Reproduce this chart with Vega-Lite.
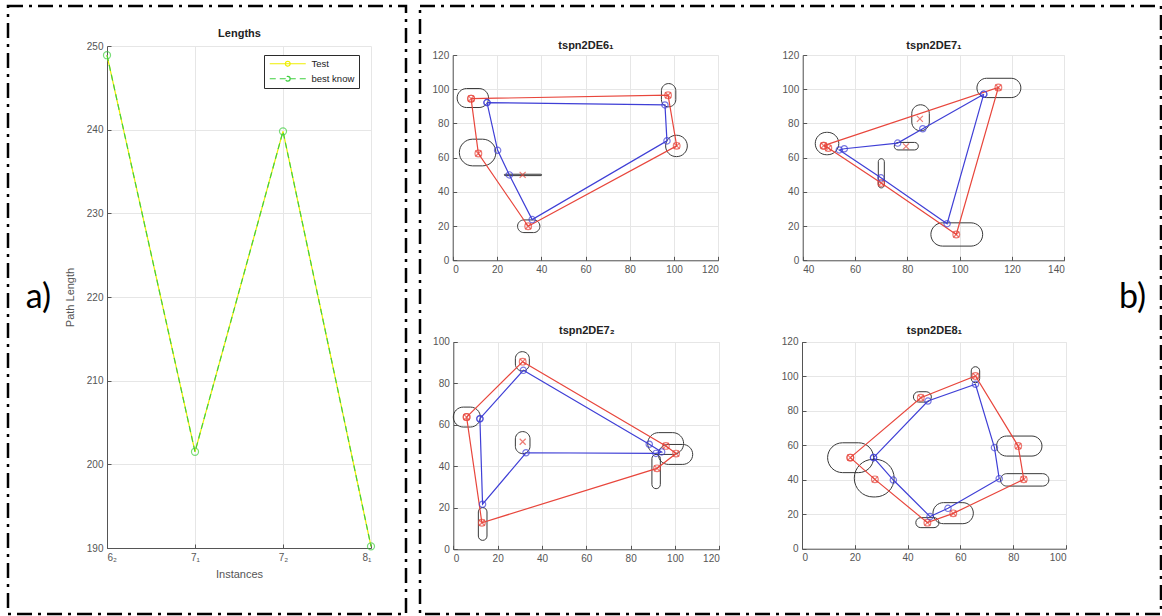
{
  "$schema": "https://vega.github.io/schema/vega-lite/v6.json",
  "padding": {"left": 6, "top": 4, "right": 0, "bottom": 0},
  "autosize": {"type": "pad"},
  "background": "white",
  "bounds": "flush",
  "spacing": 14,
  "config": {
    "font": "Liberation Sans",
    "view": {"stroke": "#000000", "strokeWidth": 2.5, "strokeDash": [15, 6, 3, 6]},
    "axis": {"labelFontSize": 10, "labelColor": "#555555", "labelFont": "Liberation Sans", "domainColor": "#555555", "tickColor": "#555555", "tickSize": -4, "labelPadding": 8, "gridColor": "#e6e6e6", "titleFontWeight": "normal", "titleFontSize": 11, "titleColor": "#555555", "titleFont": "Liberation Sans"}
  },
  "datasets": {
    "lengths": [
      {"series": "Test", "i": 0, "len": 248.9},
      {"series": "Test", "i": 1, "len": 201.5},
      {"series": "Test", "i": 2, "len": 239.8},
      {"series": "Test", "i": 3, "len": 190.2},
      {"series": "best know", "i": 0, "len": 248.9},
      {"series": "best know", "i": 1, "len": 201.5},
      {"series": "best know", "i": 2, "len": 239.8},
      {"series": "best know", "i": 3, "len": 190.2}
    ],
    "ell": [
      {"p": 1, "x": 2.0, "xe": 16.2, "y": 89.3, "ye": 100.4},
      {"p": 1, "x": 94.3, "xe": 100.8, "y": 89.7, "ye": 103.3},
      {"p": 1, "x": 96.2, "xe": 106.0, "y": 60.6, "ye": 73.1},
      {"p": 1, "x": 3.0, "xe": 19.5, "y": 55.2, "ye": 70.8},
      {"p": 1, "x": 29.3, "xe": 39.4, "y": 16.2, "ye": 23.6},
      {"p": 1, "x": 23.3, "xe": 40.2, "y": 49.5, "ye": 50.3},
      {"p": 2, "x": 106.6, "xe": 123.4, "y": 95.1, "ye": 106.4},
      {"p": 2, "x": 81.7, "xe": 88.4, "y": 75.7, "ye": 90.9},
      {"p": 2, "x": 75.0, "xe": 84.2, "y": 64.5, "ye": 68.9},
      {"p": 2, "x": 44.8, "xe": 53.8, "y": 61.7, "ye": 74.8},
      {"p": 2, "x": 68.9, "xe": 71.2, "y": 42.3, "ye": 59.4},
      {"p": 2, "x": 89.0, "xe": 108.8, "y": 8.3, "ye": 21.9},
      {"p": 3, "x": 0.0, "xe": 12.2, "y": 58.9, "ye": 68.5},
      {"p": 3, "x": 28.0, "xe": 34.3, "y": 85.9, "ye": 95.2},
      {"p": 3, "x": 28.0, "xe": 34.6, "y": 46.1, "ye": 56.7},
      {"p": 3, "x": 87.7, "xe": 103.9, "y": 45.7, "ye": 56.2},
      {"p": 3, "x": 92.5, "xe": 108.0, "y": 40.9, "ye": 50.5},
      {"p": 3, "x": 89.6, "xe": 93.4, "y": 29.2, "ye": 45.7},
      {"p": 3, "x": 11.3, "xe": 15.2, "y": 4.3, "ye": 20.1},
      {"p": 4, "x": 9.7, "xe": 27.1, "y": 44.1, "ye": 61.4},
      {"p": 4, "x": 19.8, "xe": 34.9, "y": 30.0, "ye": 51.8},
      {"p": 4, "x": 43.1, "xe": 51.9, "y": 12.2, "ye": 18.0},
      {"p": 4, "x": 49.6, "xe": 64.9, "y": 14.5, "ye": 26.7},
      {"p": 4, "x": 75.2, "xe": 93.5, "y": 36.3, "ye": 43.5},
      {"p": 4, "x": 73.7, "xe": 90.9, "y": 53.7, "ye": 65.3},
      {"p": 4, "x": 64.1, "xe": 67.3, "y": 96.2, "ye": 105.5},
      {"p": 4, "x": 42.2, "xe": 49.0, "y": 85.0, "ye": 91.0}
    ],
    "red": [
      {"p": 1, "o": 0, "x": 8.3, "y": 94.5},
      {"p": 1, "o": 1, "x": 97.3, "y": 96.5},
      {"p": 1, "o": 2, "x": 101.2, "y": 66.9},
      {"p": 1, "o": 3, "x": 34.1, "y": 19.9},
      {"p": 1, "o": 4, "x": 11.6, "y": 62.4},
      {"p": 1, "o": 5, "x": 8.3, "y": 94.5},
      {"p": 2, "o": 0, "x": 48.0, "y": 67.0},
      {"p": 2, "o": 1, "x": 114.8, "y": 101.0},
      {"p": 2, "o": 2, "x": 98.7, "y": 15.1},
      {"p": 2, "o": 3, "x": 70.0, "y": 45.2},
      {"p": 2, "o": 4, "x": 49.8, "y": 65.6},
      {"p": 2, "o": 5, "x": 48.0, "y": 67.0},
      {"p": 3, "o": 0, "x": 6.0, "y": 63.7},
      {"p": 3, "o": 1, "x": 31.3, "y": 90.4},
      {"p": 3, "o": 2, "x": 95.9, "y": 49.8},
      {"p": 3, "o": 3, "x": 100.5, "y": 46.1},
      {"p": 3, "o": 4, "x": 91.9, "y": 39.0},
      {"p": 3, "o": 5, "x": 12.9, "y": 12.8},
      {"p": 3, "o": 6, "x": 6.0, "y": 63.7},
      {"p": 4, "o": 0, "x": 18.3, "y": 52.8},
      {"p": 4, "o": 1, "x": 45.0, "y": 87.5},
      {"p": 4, "o": 2, "x": 65.7, "y": 100.1},
      {"p": 4, "o": 3, "x": 81.9, "y": 59.5},
      {"p": 4, "o": 4, "x": 84.0, "y": 40.2},
      {"p": 4, "o": 5, "x": 57.3, "y": 20.5},
      {"p": 4, "o": 6, "x": 47.5, "y": 15.1},
      {"p": 4, "o": 7, "x": 27.6, "y": 40.2},
      {"p": 4, "o": 8, "x": 18.3, "y": 52.8}
    ],
    "nodes": [
      {"p": 1, "x": 8.3, "y": 94.5}, {"p": 1, "x": 97.3, "y": 96.5}, {"p": 1, "x": 101.2, "y": 66.9},
      {"p": 1, "x": 34.1, "y": 19.9}, {"p": 1, "x": 11.6, "y": 62.4}, {"p": 1, "x": 31.6, "y": 49.9},
      {"p": 2, "x": 48.0, "y": 67.0}, {"p": 2, "x": 114.8, "y": 101.0}, {"p": 2, "x": 98.7, "y": 15.1},
      {"p": 2, "x": 70.0, "y": 45.2}, {"p": 2, "x": 49.8, "y": 65.6}, {"p": 2, "x": 84.8, "y": 82.7},
      {"p": 2, "x": 79.5, "y": 66.6},
      {"p": 3, "x": 6.0, "y": 63.7}, {"p": 3, "x": 31.3, "y": 90.4}, {"p": 3, "x": 95.9, "y": 49.8},
      {"p": 3, "x": 100.5, "y": 46.1}, {"p": 3, "x": 91.9, "y": 39.0}, {"p": 3, "x": 12.9, "y": 12.8},
      {"p": 3, "x": 31.3, "y": 51.8},
      {"p": 4, "x": 18.3, "y": 52.8}, {"p": 4, "x": 45.0, "y": 87.5}, {"p": 4, "x": 65.7, "y": 100.1},
      {"p": 4, "x": 81.9, "y": 59.5}, {"p": 4, "x": 84.0, "y": 40.2}, {"p": 4, "x": 57.3, "y": 20.5},
      {"p": 4, "x": 47.5, "y": 15.1}, {"p": 4, "x": 27.6, "y": 40.2}
    ],
    "blue": [
      {"p": 1, "o": 0, "x": 15.5, "y": 92.2},
      {"p": 1, "o": 1, "x": 95.9, "y": 90.8},
      {"p": 1, "o": 2, "x": 96.8, "y": 69.8},
      {"p": 1, "o": 3, "x": 35.9, "y": 23.8},
      {"p": 1, "o": 4, "x": 25.6, "y": 49.9},
      {"p": 1, "o": 5, "x": 20.3, "y": 64.3},
      {"p": 1, "o": 6, "x": 15.5, "y": 92.2},
      {"p": 2, "o": 0, "x": 109.2, "y": 97.1},
      {"p": 2, "o": 1, "x": 85.9, "y": 76.9},
      {"p": 2, "o": 2, "x": 76.3, "y": 68.5},
      {"p": 2, "o": 3, "x": 55.9, "y": 65.2},
      {"p": 2, "o": 4, "x": 54.0, "y": 64.5},
      {"p": 2, "o": 5, "x": 69.9, "y": 48.2},
      {"p": 2, "o": 6, "x": 95.2, "y": 21.4},
      {"p": 2, "o": 7, "x": 109.2, "y": 97.1},
      {"p": 3, "o": 0, "x": 12.0, "y": 62.9},
      {"p": 3, "o": 1, "x": 31.6, "y": 86.2},
      {"p": 3, "o": 2, "x": 88.4, "y": 50.6},
      {"p": 3, "o": 3, "x": 94.0, "y": 46.9},
      {"p": 3, "o": 4, "x": 91.4, "y": 46.2},
      {"p": 3, "o": 5, "x": 32.8, "y": 46.5},
      {"p": 3, "o": 6, "x": 13.2, "y": 21.7},
      {"p": 3, "o": 7, "x": 12.0, "y": 62.9},
      {"p": 4, "o": 0, "x": 27.1, "y": 52.8},
      {"p": 4, "o": 1, "x": 47.7, "y": 85.6},
      {"p": 4, "o": 2, "x": 65.7, "y": 95.3},
      {"p": 4, "o": 3, "x": 72.9, "y": 58.6},
      {"p": 4, "o": 4, "x": 74.7, "y": 40.6},
      {"p": 4, "o": 5, "x": 55.3, "y": 23.4},
      {"p": 4, "o": 6, "x": 48.5, "y": 18.6},
      {"p": 4, "o": 7, "x": 34.6, "y": 39.8},
      {"p": 4, "o": 8, "x": 27.1, "y": 52.8}
    ]
  },
  "hconcat": [
    {
      "width": 398,
      "height": 608,
      "encoding": {
        "x": {"field": "i", "type": "quantitative", "scale": {"domain": [0, 3], "range": [99, 363], "nice": false, "zero": false}, "axis": null},
        "y": {"field": "len", "type": "quantitative", "scale": {"domain": [190, 250], "range": [542, 40], "nice": false, "zero": false}, "axis": null}
      },
      "layer": [
        {
          "data": {"name": "lengths"},
          "mark": {"type": "line", "strokeWidth": 1.2},
          "encoding": {
            "x": {"field": "i", "type": "quantitative", "scale": {"domain": [0, 3], "range": [99, 363], "nice": false, "zero": false},
                  "axis": {"orient": "bottom", "offset": -66, "values": [0, 1, 2, 3], "grid": false, "title": "Instances", "titlePadding": 6, "labelExpr": "['6₂','7₁','7₂','8₁'][datum.value]"}},
            "y": {"field": "len", "type": "quantitative", "scale": {"domain": [190, 250], "range": [542, 40], "nice": false, "zero": false},
                  "axis": {"orient": "left", "offset": -99, "values": [190, 200, 210, 220, 230, 240, 250], "grid": true, "title": "Path Length", "titlePadding": 11}},
            "color": {"field": "series", "type": "nominal", "scale": {"domain": ["Test", "best know"], "range": ["#eeee00", "#3fcf3f"]},
                      "legend": {"orient": "none", "legendX": 256, "legendY": 49, "title": null, "strokeColor": "#2b2b2b", "fillColor": "white", "padding": 4, "labelFontSize": 9.5, "labelColor": "#222222", "symbolType": "M-1,0L11,0M5.8,0A0.8,0.8 0 1,1 4.2,0A0.8,0.8 0 1,1 5.8,0", "symbolSize": 36, "symbolStrokeWidth": 1.2, "rowPadding": 4, "labelOffset": 34}},
            "strokeDash": {"field": "series", "type": "nominal", "scale": {"domain": ["Test", "best know"], "range": [[1, 0], [6, 4]]},
                      "legend": {"orient": "none", "legendX": 256, "legendY": 49, "title": null, "strokeColor": "#2b2b2b", "fillColor": "white", "padding": 4, "labelFontSize": 9.5, "labelColor": "#222222", "symbolType": "M-1,0L11,0M5.8,0A0.8,0.8 0 1,1 4.2,0A0.8,0.8 0 1,1 5.8,0", "symbolSize": 36, "symbolStrokeWidth": 1.2, "rowPadding": 4, "labelOffset": 34}}
          }
        },
        {
          "data": {"name": "lengths"},
          "transform": [{"filter": "datum.series == 'best know'"}],
          "mark": {"type": "point", "shape": "circle", "filled": false, "color": "#3fcf3f", "size": 50, "strokeWidth": 1.2},
          "encoding": {
            "x": {"field": "i", "type": "quantitative", "scale": {"domain": [0, 3], "range": [99, 363], "nice": false, "zero": false},
                  "axis": {"orient": "top", "offset": -40, "values": [0, 1, 2, 3], "grid": true, "labels": false, "ticks": false, "domain": false, "title": "Lengths", "titlePadding": 8, "titleFontWeight": "bold", "titleFontSize": 11, "titleColor": "#222222"}},
            "y": {"field": "len", "type": "quantitative", "scale": {"domain": [190, 250], "range": [542, 40], "nice": false, "zero": false},
                  "axis": {"orient": "left", "offset": -30, "labels": false, "ticks": false, "domain": false, "grid": false, "title": "a)", "titleAngle": 0, "titleX": 0, "titleY": 291, "titleAlign": "center", "titleBaseline": "middle", "titleFont": "Lato", "titleFontSize": 34, "titleFontWeight": "normal", "titleColor": "#000000"}}
          }
        }
      ],
      "resolve": {"axis": {"x": "independent", "y": "independent"}}
    },
    {
      "width": 741,
      "height": 608,
      "layer": [
        {
          "encoding": {
            "x": {"field": "x", "type": "quantitative", "scale": {"domain": [0, 120], "range": [32.7, 298.3], "nice": false, "zero": false}, "axis": null},
            "y": {"field": "y", "type": "quantitative", "scale": {"domain": [0, 120], "range": [254.3, 49], "nice": false, "zero": false}, "axis": null}
          },
          "layer": [
            {"data": {"name": "ell"}, "transform": [{"filter": "datum.p == 1"}],
             "mark": {"type": "rect", "filled": false, "stroke": "#383838", "strokeWidth": 1, "cornerRadius": 999},
             "encoding": {"x": {"field": "x", "type": "quantitative", "scale": {"domain": [0, 120], "range": [32.7, 298.3], "nice": false, "zero": false},
                                "axis": {"orient": "bottom", "offset": -353.7, "values": [0, 20, 40, 60, 80, 100, 120], "grid": false, "title": null}},
                          "y": {"field": "y", "type": "quantitative", "scale": {"domain": [0, 120], "range": [254.3, 49], "nice": false, "zero": false},
                                "axis": {"orient": "left", "offset": -32.7, "values": [0, 20, 40, 60, 80, 100, 120], "grid": true, "title": null}},
                          "x2": {"field": "xe"}, "y2": {"field": "ye"}}},
            {"data": {"name": "red"}, "transform": [{"filter": "datum.p == 1"}],
             "mark": {"type": "line", "color": "#e8463c", "strokeWidth": 1.2}, "encoding": {"order": {"field": "o"}}},
            {"data": {"name": "red"}, "transform": [{"filter": "datum.p == 1"}],
             "mark": {"type": "point", "shape": "circle", "filled": false, "color": "#e8463c", "size": 45, "strokeWidth": 1.2}},
            {"data": {"name": "nodes"}, "transform": [{"filter": "datum.p == 1"}],
             "mark": {"type": "point", "shape": "M-1,-1L1,1M-1,1L1,-1", "filled": false, "color": "#e8463c", "size": 36, "strokeWidth": 1.2}},
            {"data": {"name": "blue"}, "transform": [{"filter": "datum.p == 1"}],
             "mark": {"type": "line", "color": "#3f3fd6", "strokeWidth": 1.2}, "encoding": {"order": {"field": "o"}}},
            {"data": {"name": "blue"}, "transform": [{"filter": "datum.p == 1"}],
             "mark": {"type": "point", "shape": "circle", "filled": false, "color": "#3f3fd6", "size": 40, "strokeWidth": 1.2},
             "encoding": {"x": {"field": "x", "type": "quantitative", "scale": {"domain": [0, 120], "range": [32.7, 298.3], "nice": false, "zero": false},
                                "axis": {"orient": "top", "offset": -49, "values": [0, 20, 40, 60, 80, 100, 120], "grid": true, "labels": false, "ticks": false, "domain": false, "title": "tspn2DE6₁", "titlePadding": 5, "titleFontWeight": "bold", "titleFontSize": 11, "titleColor": "#222222"}}}}
          ],
          "resolve": {"axis": {"x": "independent", "y": "independent"}}
        },
        {
          "encoding": {
            "x": {"field": "x", "type": "quantitative", "scale": {"domain": [40, 140], "range": [382.7, 644.3], "nice": false, "zero": false}, "axis": null},
            "y": {"field": "y", "type": "quantitative", "scale": {"domain": [0, 120], "range": [254.3, 49], "nice": false, "zero": false}, "axis": null}
          },
          "layer": [
            {"data": {"name": "ell"}, "transform": [{"filter": "datum.p == 2"}],
             "mark": {"type": "rect", "filled": false, "stroke": "#383838", "strokeWidth": 1, "cornerRadius": 999},
             "encoding": {"x": {"field": "x", "type": "quantitative", "scale": {"domain": [40, 140], "range": [382.7, 644.3], "nice": false, "zero": false},
                                "axis": {"orient": "bottom", "offset": -353.7, "values": [40, 60, 80, 100, 120, 140], "grid": false, "title": null}},
                          "y": {"field": "y", "type": "quantitative", "scale": {"domain": [0, 120], "range": [254.3, 49], "nice": false, "zero": false},
                                "axis": {"orient": "left", "offset": -382.7, "values": [0, 20, 40, 60, 80, 100, 120], "grid": true, "title": null}},
                          "x2": {"field": "xe"}, "y2": {"field": "ye"}}},
            {"data": {"name": "red"}, "transform": [{"filter": "datum.p == 2"}],
             "mark": {"type": "line", "color": "#e8463c", "strokeWidth": 1.2}, "encoding": {"order": {"field": "o"}}},
            {"data": {"name": "red"}, "transform": [{"filter": "datum.p == 2"}],
             "mark": {"type": "point", "shape": "circle", "filled": false, "color": "#e8463c", "size": 45, "strokeWidth": 1.2},
             "encoding": {"y": {"field": "y", "type": "quantitative", "scale": {"domain": [0, 120], "range": [254.3, 49], "nice": false, "zero": false},
                                "axis": {"orient": "right", "offset": -29, "labels": false, "ticks": false, "domain": false, "grid": false, "title": "b)", "titleAngle": 0, "titleX": 0, "titleY": 291, "titleAlign": "center", "titleBaseline": "middle", "titleFont": "Lato", "titleFontSize": 34, "titleFontWeight": "normal", "titleColor": "#000000"}}}},
            {"data": {"name": "nodes"}, "transform": [{"filter": "datum.p == 2"}],
             "mark": {"type": "point", "shape": "M-1,-1L1,1M-1,1L1,-1", "filled": false, "color": "#e8463c", "size": 36, "strokeWidth": 1.2}},
            {"data": {"name": "blue"}, "transform": [{"filter": "datum.p == 2"}],
             "mark": {"type": "line", "color": "#3f3fd6", "strokeWidth": 1.2}, "encoding": {"order": {"field": "o"}}},
            {"data": {"name": "blue"}, "transform": [{"filter": "datum.p == 2"}],
             "mark": {"type": "point", "shape": "circle", "filled": false, "color": "#3f3fd6", "size": 40, "strokeWidth": 1.2},
             "encoding": {"x": {"field": "x", "type": "quantitative", "scale": {"domain": [40, 140], "range": [382.7, 644.3], "nice": false, "zero": false},
                                "axis": {"orient": "top", "offset": -49, "values": [40, 60, 80, 100, 120, 140], "grid": true, "labels": false, "ticks": false, "domain": false, "title": "tspn2DE7₁", "titlePadding": 5, "titleFontWeight": "bold", "titleFontSize": 11, "titleColor": "#222222"}}}}
          ],
          "resolve": {"axis": {"x": "independent", "y": "independent"}}
        },
        {
          "encoding": {
            "x": {"field": "x", "type": "quantitative", "scale": {"domain": [0, 120], "range": [33.3, 299.3], "nice": false, "zero": false}, "axis": null},
            "y": {"field": "y", "type": "quantitative", "scale": {"domain": [0, 100], "range": [543.3, 335.7], "nice": false, "zero": false}, "axis": null}
          },
          "layer": [
            {"data": {"name": "ell"}, "transform": [{"filter": "datum.p == 3"}],
             "mark": {"type": "rect", "filled": false, "stroke": "#383838", "strokeWidth": 1, "cornerRadius": 999},
             "encoding": {"x": {"field": "x", "type": "quantitative", "scale": {"domain": [0, 120], "range": [33.3, 299.3], "nice": false, "zero": false},
                                "axis": {"orient": "bottom", "offset": -64.7, "values": [0, 20, 40, 60, 80, 100, 120], "grid": false, "title": null}},
                          "y": {"field": "y", "type": "quantitative", "scale": {"domain": [0, 100], "range": [543.3, 335.7], "nice": false, "zero": false},
                                "axis": {"orient": "left", "offset": -33.3, "values": [0, 20, 40, 60, 80, 100], "grid": true, "title": null}},
                          "x2": {"field": "xe"}, "y2": {"field": "ye"}}},
            {"data": {"name": "red"}, "transform": [{"filter": "datum.p == 3"}],
             "mark": {"type": "line", "color": "#e8463c", "strokeWidth": 1.2}, "encoding": {"order": {"field": "o"}}},
            {"data": {"name": "red"}, "transform": [{"filter": "datum.p == 3"}],
             "mark": {"type": "point", "shape": "circle", "filled": false, "color": "#e8463c", "size": 45, "strokeWidth": 1.2}},
            {"data": {"name": "nodes"}, "transform": [{"filter": "datum.p == 3"}],
             "mark": {"type": "point", "shape": "M-1,-1L1,1M-1,1L1,-1", "filled": false, "color": "#e8463c", "size": 36, "strokeWidth": 1.2}},
            {"data": {"name": "blue"}, "transform": [{"filter": "datum.p == 3"}],
             "mark": {"type": "line", "color": "#3f3fd6", "strokeWidth": 1.2}, "encoding": {"order": {"field": "o"}}},
            {"data": {"name": "blue"}, "transform": [{"filter": "datum.p == 3"}],
             "mark": {"type": "point", "shape": "circle", "filled": false, "color": "#3f3fd6", "size": 40, "strokeWidth": 1.2},
             "encoding": {"x": {"field": "x", "type": "quantitative", "scale": {"domain": [0, 120], "range": [33.3, 299.3], "nice": false, "zero": false},
                                "axis": {"orient": "top", "offset": -335.7, "values": [0, 20, 40, 60, 80, 100, 120], "grid": true, "labels": false, "ticks": false, "domain": false, "title": "tspn2DE7₂", "titlePadding": 6, "titleFontWeight": "bold", "titleFontSize": 11, "titleColor": "#222222"}}}}
          ],
          "resolve": {"axis": {"x": "independent", "y": "independent"}}
        },
        {
          "encoding": {
            "x": {"field": "x", "type": "quantitative", "scale": {"domain": [0, 100], "range": [382, 646], "nice": false, "zero": false}, "axis": null},
            "y": {"field": "y", "type": "quantitative", "scale": {"domain": [0, 120], "range": [542.7, 335.7], "nice": false, "zero": false}, "axis": null}
          },
          "layer": [
            {"data": {"name": "ell"}, "transform": [{"filter": "datum.p == 4"}],
             "mark": {"type": "rect", "filled": false, "stroke": "#383838", "strokeWidth": 1, "cornerRadius": 999},
             "encoding": {"x": {"field": "x", "type": "quantitative", "scale": {"domain": [0, 100], "range": [382, 646], "nice": false, "zero": false},
                                "axis": {"orient": "bottom", "offset": -65.3, "values": [0, 20, 40, 60, 80, 100], "grid": false, "title": null}},
                          "y": {"field": "y", "type": "quantitative", "scale": {"domain": [0, 120], "range": [542.7, 335.7], "nice": false, "zero": false},
                                "axis": {"orient": "left", "offset": -382, "values": [0, 20, 40, 60, 80, 100, 120], "grid": true, "title": null}},
                          "x2": {"field": "xe"}, "y2": {"field": "ye"}}},
            {"data": {"name": "red"}, "transform": [{"filter": "datum.p == 4"}],
             "mark": {"type": "line", "color": "#e8463c", "strokeWidth": 1.2}, "encoding": {"order": {"field": "o"}}},
            {"data": {"name": "red"}, "transform": [{"filter": "datum.p == 4"}],
             "mark": {"type": "point", "shape": "circle", "filled": false, "color": "#e8463c", "size": 45, "strokeWidth": 1.2}},
            {"data": {"name": "nodes"}, "transform": [{"filter": "datum.p == 4"}],
             "mark": {"type": "point", "shape": "M-1,-1L1,1M-1,1L1,-1", "filled": false, "color": "#e8463c", "size": 36, "strokeWidth": 1.2}},
            {"data": {"name": "blue"}, "transform": [{"filter": "datum.p == 4"}],
             "mark": {"type": "line", "color": "#3f3fd6", "strokeWidth": 1.2}, "encoding": {"order": {"field": "o"}}},
            {"data": {"name": "blue"}, "transform": [{"filter": "datum.p == 4"}],
             "mark": {"type": "point", "shape": "circle", "filled": false, "color": "#3f3fd6", "size": 40, "strokeWidth": 1.2},
             "encoding": {"x": {"field": "x", "type": "quantitative", "scale": {"domain": [0, 100], "range": [382, 646], "nice": false, "zero": false},
                                "axis": {"orient": "top", "offset": -335.7, "values": [0, 20, 40, 60, 80, 100], "grid": true, "labels": false, "ticks": false, "domain": false, "title": "tspn2DE8₁", "titlePadding": 6, "titleFontWeight": "bold", "titleFontSize": 11, "titleColor": "#222222"}}}}
          ],
          "resolve": {"axis": {"x": "independent", "y": "independent"}}
        }
      ],
      "resolve": {"scale": {"x": "independent", "y": "independent"}, "axis": {"x": "independent", "y": "independent"}}
    }
  ]
}
